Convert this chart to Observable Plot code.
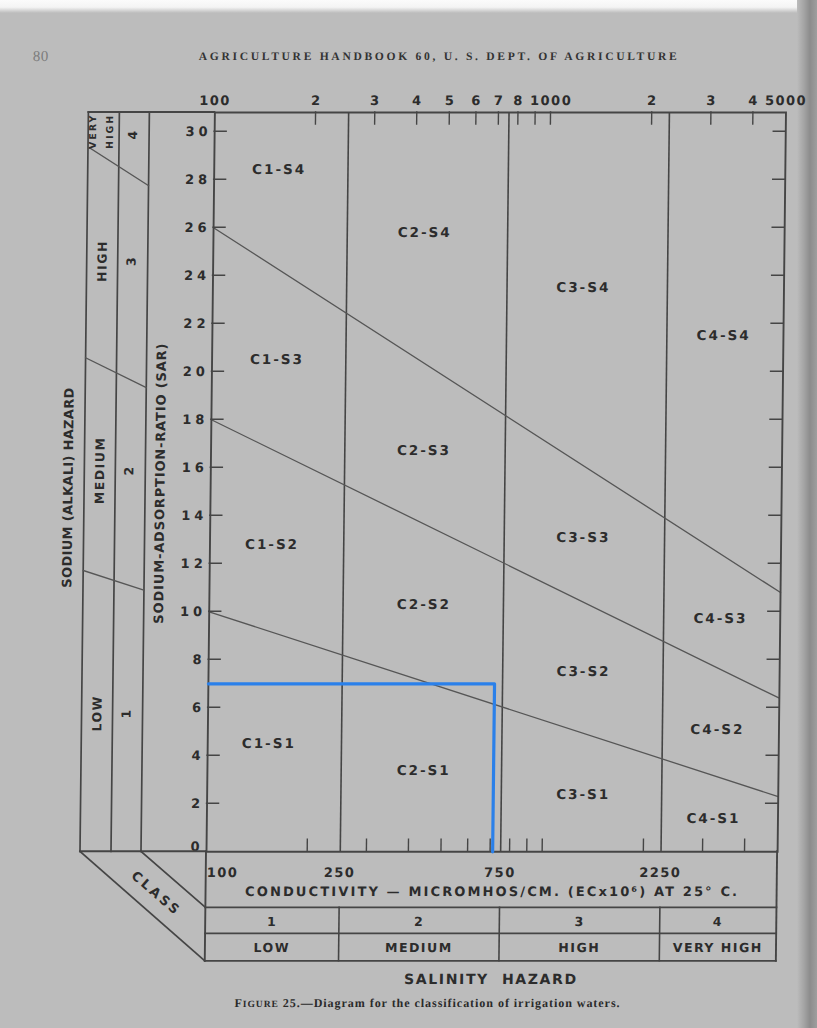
<!DOCTYPE html>
<html><head><meta charset="utf-8">
<script src="https://cdn.jsdelivr.net/npm/d3@7"></script>
<script src="https://cdn.jsdelivr.net/npm/@observablehq/plot@0.6"></script>
<style>
html,body{margin:0;padding:0;}
body{width:817px;height:1028px;overflow:hidden;position:relative;background:#bcbcbc;}
#pagetop{position:absolute;left:0;top:0;width:817px;height:13px;background:linear-gradient(#fbfbfb 0%,#f4f4f4 55%,#bcbcbc 100%);}
#edge{position:absolute;right:0;top:0;width:20px;height:1028px;background:linear-gradient(to right,#bcbcbc 0%,#a4a4a4 35%,#8c8c8c 65%,#9e9e9e 100%);}
#chart{position:absolute;left:0;top:0;}
</style></head><body>
<div id="pagetop"></div><div id="edge"></div><div id="chart"></div>
<script>
// ---- data ----
const ecDomain = [100, 5000];
const sarDomain = [0, 30.8];
const topTickValues = [200, 300, 400, 500, 600, 700, 800, 900, 1000, 2000, 3000, 4000];
const topLabelValues = [100, 200, 300, 400, 500, 600, 700, 800, 1000, 2000, 3000, 4000, 5000];
const topLabelTexts = ["100", "2", "3", "4", "5", "6", "7", "8", "1000", "2", "3", "4", "5000"];
const sarTickValues = [0, 2, 4, 6, 8, 10, 12, 14, 16, 18, 20, 22, 24, 26, 28, 30];
const classBreaks = [250, 750, 2250];
const classEdgeValues = [100, 250, 750, 2250];
const classEdgeTexts = ["100", "250", "750", "2250"];
const salinityClassNumbers = ["1", "2", "3", "4"];
const salinityClassNames = ["LOW", "MEDIUM", "HIGH", "VERY HIGH"];
const sodiumClassNumbers = ["1", "2", "3", "4"];
const sodiumClassNames = ["LOW", "MEDIUM", "HIGH", "VERY HIGH"];
const boundaryEC = [100, 5000];
const boundaryS1S2 = [10, 2.3];
const boundaryS2S3 = [18, 6.4];
const boundaryS3S4 = [26, 10.8];
const regionNames = ["C1-S4","C2-S4","C3-S4","C4-S4","C1-S3","C2-S3","C3-S3","C4-S3","C1-S2","C2-S2","C3-S2","C4-S2","C1-S1","C2-S1","C3-S1","C4-S1"];
const regionEC =  [156, 425, 1265, 3320, 156, 430, 1290, 3320, 153, 435, 1305, 3280, 152, 440, 1315, 3215];
const regionSAR = [28.4, 25.8, 23.5, 21.5, 20.5, 16.7, 13.1, 9.7, 12.8, 10.3, 7.5, 5.1, 4.5, 3.4, 2.4, 1.4];
const sampleEC = 710;
const sampleSAR = 7;
const headerText = "AGRICULTURE HANDBOOK 60, U. S. DEPT. OF AGRICULTURE";
const pageNumber = "80";
const xTitle = "CONDUCTIVITY — MICROMHOS/CM. (ECx10⁶) AT 25° C.";
const salinityTitle = "SALINITY  HAZARD";
const sodiumTitle = "SODIUM (ALKALI) HAZARD";
const yTitle = "SODIUM-ADSORPTION-RATIO (SAR)";
const classTitle = "CLASS";
const captionLead = ["F", "IGURE"];
const captionText = " 25.—Diagram for the classification of irrigation waters.";

(function () {
// ---- styles ----
const LINE = "#454545", INK = "#2c2c2c";
const FONT = "'DejaVu Sans', 'Liberation Sans', sans-serif";
const SERIF = "'Liberation Serif', 'DejaVu Serif', serif";

const boundaryRows = [
  ...boundaryEC.map((ec, i) => ({name: "S1/S2", ec, sar: boundaryS1S2[i]})),
  ...boundaryEC.map((ec, i) => ({name: "S2/S3", ec, sar: boundaryS2S3[i]})),
  ...boundaryEC.map((ec, i) => ({name: "S3/S4", ec, sar: boundaryS3S4[i]}))
];
const regions = regionNames.map((name, i) => ({name, ec: regionEC[i], sar: regionSAR[i]}));
const sampleRows = [
  {ec: ecDomain[0], sar: sampleSAR},
  {ec: sampleEC, sar: sampleSAR},
  {ec: sampleEC, sar: 0}
];
const sarLabelFont = {fill: INK, fontSize: 13, fontWeight: "bold", fontFamily: FONT, textAnchor: "end"};

const plot = Plot.plot({
  width: 817, height: 1028,
  marginLeft: 210.2, marginRight: 35.7, marginTop: 112, marginBottom: 176.7,
  x: {type: "log", domain: ecDomain, axis: null},
  y: {domain: sarDomain, axis: null},
  style: {background: "transparent", overflow: "visible"},
  marks: [
    Plot.ruleX(classBreaks, {stroke: LINE, strokeWidth: 1.6}),
    Plot.line(boundaryRows, {x: "ec", y: "sar", z: "name", stroke: "#565656", strokeWidth: 1.3}),
    Plot.frame({stroke: LINE, strokeWidth: 1.9}),
    Plot.text(regions, {x: "ec", y: "sar", text: "name", fill: INK, fontSize: 13.5, fontWeight: "bold", fontFamily: FONT}),
    Plot.text(topLabelValues, {x: d => d, y: sarDomain[1], text: (d, i) => topLabelTexts[i], dy: -11.5, fill: INK, fontSize: 13, fontWeight: "bold", fontFamily: FONT}),
    Plot.text(sarTickValues.filter(v => v > 0), {x: ecDomain[0], y: d => d, text: d => String(d), dx: -3, ...sarLabelFont}),
    Plot.text(sarTickValues.filter(v => v === 0), {x: ecDomain[0], y: d => d, text: d => String(d), dx: -3, dy: -5, ...sarLabelFont}),
    Plot.line(sampleRows, {x: "ec", y: "sar", stroke: "#2a80ea", strokeWidth: 3.2})
  ]
});

// letter spacing of the text marks (in mark order)
const tg = plot.querySelectorAll('g[aria-label="text"]');
const spacings = ["2px", "1.5px", "4px", "4px"];
tg.forEach((g, i) => { if (spacings[i]) g.style.letterSpacing = spacings[i]; });

const svg = d3.select(plot);
const X = v => plot.scale("x").apply(v);
const Y = v => plot.scale("y").apply(v);
const xInv = px => plot.scale("x").invert(px);
const xL = X(ecDomain[0]), xR = X(ecDomain[1]);
const yT = Y(sarDomain[1]), yB = Y(0);

const deco = svg.append("g").attr("stroke", LINE).attr("fill", "none").attr("stroke-linecap", "square");
const seg = (x1, y1, x2, y2, w = 1.6, c = LINE) => deco.append("line")
  .attr("x1", x1).attr("y1", y1).attr("x2", x2).attr("y2", y2).attr("stroke-width", w).attr("stroke", c);

// axis ticks
topTickValues.forEach(v => { seg(X(v), yT, X(v), yT + 12, 1.4); seg(X(v), yB, X(v), yB - 12, 1.4); });
sarTickValues.filter(v => v > 0).forEach(v => { seg(xL, Y(v), xL + 12, Y(v), 1.4); seg(xR, Y(v), xR - 12, Y(v), 1.4); });

// left (sodium hazard) panel
const colOuter = xL - 126, colMid = xL - 95, colInner = xL - 65;
seg(colOuter, yT, xL, yT, 1.9);
seg(colOuter, yB, xL, yB, 1.9);
[colOuter, colMid, colInner].forEach(c => seg(c, yT, c, yB, 1.7));
const logSpan = Math.log10(ecDomain[1]) - Math.log10(ecDomain[0]);
const boundarySAR = (b, px) => {
  const t = (Math.log10(xInv(px)) - Math.log10(ecDomain[0])) / logSpan;
  return b[0] + (b[1] - b[0]) * t;
};
const boundaries = [boundaryS1S2, boundaryS2S3, boundaryS3S4];
boundaries.forEach(b => seg(colOuter, Y(boundarySAR(b, colOuter)), colInner, Y(boundarySAR(b, colInner)), 1.3, "#565656"));

// bottom (salinity hazard) panel
const row1 = yB + 56, row2 = yB + 82, row3 = yB + 109.5;
seg(xL, yB, xL, row3, 1.9);
seg(xR, yB, xR, row3, 1.9);
[row1, row2, row3].forEach(r => seg(xL, r, xR, r, 1.7));
classBreaks.forEach(v => seg(X(v), row1, X(v), row3, 1.6));
// class parallelogram
seg(colOuter, yB, xL, row3, 1.7);
seg(colInner, yB, xL, row1, 1.7);

// texts
const tx = svg.append("g").attr("fill", INK).attr("font-family", FONT).attr("font-weight", "bold");
function label(x, y, s, o = {}) {
  const t = tx.append("text")
    .attr("transform", `translate(${x},${y}) rotate(${o.rotate || 0})`)
    .attr("text-anchor", o.anchor || "middle")
    .attr("dy", "0.35em")
    .attr("font-size", o.size || 13)
    .style("letter-spacing", (o.ls == null ? 1.5 : o.ls) + "px")
    .text(s);
  if (o.len) t.attr("textLength", o.len).attr("lengthAdjust", "spacing").style("letter-spacing", "0px");
  if (o.family) t.attr("font-family", o.family);
  if (o.weight) t.attr("font-weight", o.weight);
  if (o.fill) t.attr("fill", o.fill);
  return t;
}

// bottom panel texts
classEdgeValues.forEach((v, i) => {
  if (i === 0) label(X(v) + 1, yB + 21.4, classEdgeTexts[i], {anchor: "start", ls: 1.5});
  else label(X(v), yB + 21.4, classEdgeTexts[i], {ls: 1.5});
});
const mid = (xL + xR) / 2;
label(mid, yB + 40.4, xTitle, {len: 492, size: 13});
const colEdges = [xL, ...classBreaks.map(X), xR];
salinityClassNumbers.forEach((s, i) => label((colEdges[i] + colEdges[i + 1]) / 2, (row1 + row2) / 2 + 1.5, s, {size: 12.5}));
salinityClassNames.forEach((s, i) => label((colEdges[i] + colEdges[i + 1]) / 2, (row2 + row3) / 2 + 0.8, s, {size: 12.5, ls: 1.5}));
label(mid, row3 + 18.5, salinityTitle, {size: 14, len: 172});

// left panel texts
const c1 = (colOuter + colMid) / 2, c2 = (colMid + colInner) / 2;
const bandEdges = [yB, ...boundaries.map(b => Y(boundarySAR(b, c1))), yT];
const bandMid = i => (bandEdges[i] + bandEdges[i + 1]) / 2;
label(68, (yT + yB) / 2 + 6, sodiumTitle, {rotate: -90, size: 13, len: 200});
[0, 1, 2].forEach(i => label(c1, bandMid(i), sodiumClassNames[i], {rotate: -90, size: 12.5, ls: 1.5}));
const vh = sodiumClassNames[3].split(" ");
label(c1 - 11, bandMid(3) - 3, vh[0], {rotate: -90, size: 9.5, ls: 2});
label(c1 + 6, bandMid(3) - 3, vh[1], {rotate: -90, size: 9.5, ls: 2});
sodiumClassNumbers.forEach((s, i) => label(c2 - 1.5, bandMid(i), s, {rotate: -90, size: 12.5}));
label(160, (yT + yB) / 2 + 2, yTitle, {rotate: -90, size: 13, len: 280});
label((colOuter + xL) / 2 + 14, yB + 42, classTitle, {rotate: 40.5, size: 13, ls: 3});

// page header and caption
label(433, 56, headerText, {family: SERIF, size: 11.5, len: 478, fill: "#333333"});
label(36, 56, pageNumber, {family: SERIF, size: 15, weight: "normal", ls: 0.5, fill: "#7d7d7d"});
const cap = label(433, row3 + 42, "", {family: SERIF, size: 12, weight: "bold", len: 385, fill: "#2a2a2a"});
cap.append("tspan").text(captionLead[0]);
cap.append("tspan").attr("font-size", 9.5).text(captionLead[1]);
cap.append("tspan").text(captionText);

plot.style.transform = "skewX(-0.65deg)";
plot.style.transformOrigin = "0px 481px";
document.getElementById("chart").appendChild(plot);
})();
</script></body></html>
